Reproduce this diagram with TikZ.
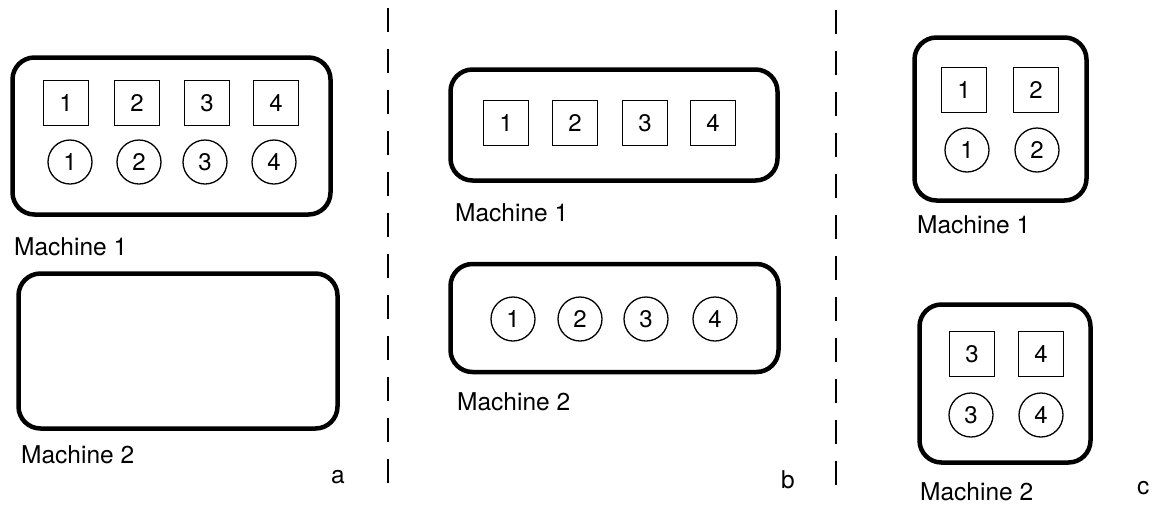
\documentclass[tikz,border=0pt]{standalone}
\usepackage{fontspec}
\setmainfont{TeX Gyre Heros}

\begin{document}
\begin{tikzpicture}[x=1pt,y=-1pt,
    machine/.style={draw,line width=4.5pt,rounded corners=22pt,inner sep=0pt},
    job/.style={draw,line width=1.3pt,minimum size=45pt,inner sep=0pt,font=\fontsize{24}{28}\selectfont},
    proc/.style={draw,circle,line width=1.3pt,minimum size=44pt,inner sep=0pt,font=\fontsize{24}{28}\selectfont},
    lbl/.style={anchor=west,inner sep=0pt,font=\fontsize{24.5}{29}\selectfont},
    divider/.style={line width=1.8pt,dash pattern=on 24pt off 17pt}]
    \useasboundingbox (0,0) rectangle (1159,504);
    % a: everything on machine 1
    \node[machine,minimum width=318pt,minimum height=157pt] (ma1) at (171.5,136) {};
    \node[machine,minimum width=319pt,minimum height=155pt] (ma2) at (178,351) {};
    \foreach \i/\x/\y in {1/66/70,2/137/139,3/207/205,4/276/274}{
      \node[job] (aj\i) at (\x,103) {\i};
      \node[proc] (ap\i) at (\y,162) {\i};
    }
    \node[lbl] (la1) at (14,247) {Machine 1};
    \node[lbl] (la2) at (21,455) {Machine 2};
    \node[lbl] (tag-a) at (331,477) {a};
    % b: squares on 1, circles on 2
    \node[machine,minimum width=327pt,minimum height=111pt] (mb1) at (614,125) {};
    \node[machine,minimum width=328pt,minimum height=108pt] (mb2) at (614.5,318) {};
    \foreach \i/\x/\y in {1/506/513,2/575/580,3/645/646,4/713/715}{
      \node[job] (bj\i) at (\x,123) {\i};
      \node[proc] (bp\i) at (\y,319) {\i};
    }
    \node[lbl] (lb1) at (455,213) {Machine 1};
    \node[lbl] (lb2) at (457,402) {Machine 2};
    \node[lbl] (tag-b) at (781,480) {b};
    % c: split in two halves
    \node[machine,minimum width=172pt,minimum height=163pt] (mc1) at (1000.5,119) {};
    \node[machine,minimum width=171pt,minimum height=158pt] (mc2) at (1005,383.5) {};
    \foreach \i/\x/\y in {1/964/967,2/1036/1037}{
      \node[job] (cj\i) at (\x,90) {\i};
      \node[proc] (cp\i) at (\y,150) {\i};
    }
    \foreach \i/\x/\y in {3/972/971,4/1041/1041}{
      \node[job] (cj\i) at (\x,354) {\i};
      \node[proc] (cp\i) at (\y,415) {\i};
    }
    \node[lbl] (lc1) at (917,225) {Machine 1};
    \node[lbl] (lc2) at (920,492) {Machine 2};
    \node[lbl] (tag-c) at (1137,488) {c};
    % dividers
    \coordinate (d1t) at (388,8);
    \coordinate (d1b) at (388,487);
    \coordinate (d2t) at (836,10);
    \coordinate (d2b) at (836,488);
    \draw[divider] (d1t) -- (d1b);
    \draw[divider] (d2t) -- (d2b);
\end{tikzpicture}
\end{document}
